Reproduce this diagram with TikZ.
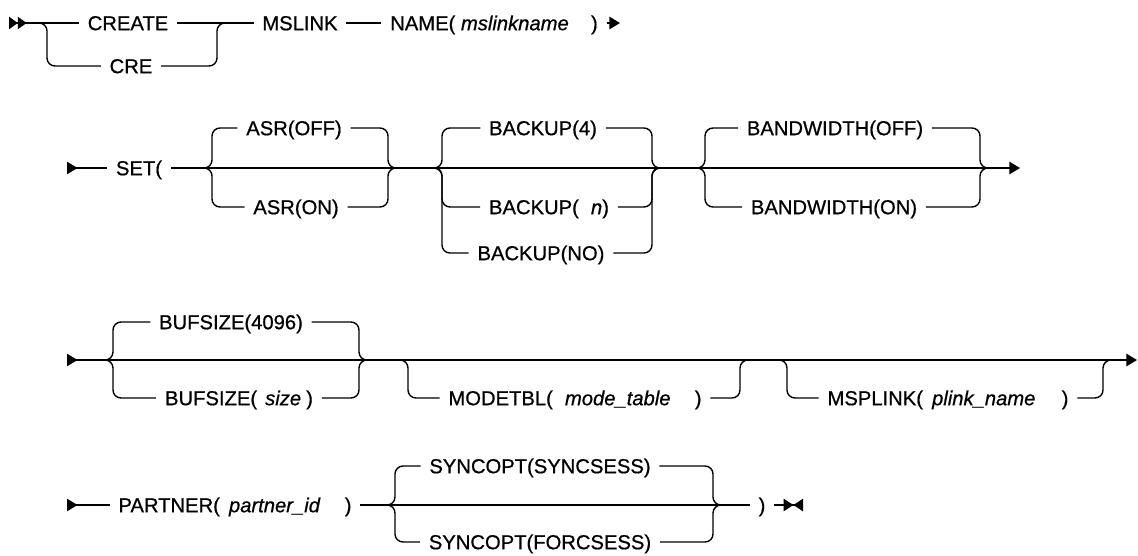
\documentclass[tikz,border=0pt]{standalone}
\usepackage{fontspec}
\setmainfont{Liberation Sans}[FakeBold=0.7]
\usetikzlibrary{arrows.meta}

\begin{document}
\begin{tikzpicture}[x=0.02cm,y=-0.02cm,
  rail/.style={line width=0.8pt,rounded corners=0.16cm},
  kw/.style={font=\fontsize{11.5}{13}\selectfont,inner xsep=0.17cm,inner ysep=0pt,text height=8.2pt,text depth=0pt}]
  \useasboundingbox (0,0) rectangle (1138,555);
  % row 1
  \coordinate (r1start) at (9,23);
  \node[kw] (create) at (128,23) {CREATE};
  \node[kw] (cre) at (131,66) {CRE};
  \coordinate (creL) at (47,23);
  \coordinate (creR) at (217,23);
  \node[kw] (mslink) at (300,23) {MSLINK};
  \node[kw] (name) at (494,23) {NAME( \textit{mslinkname}\hspace{1.1em})};
  \coordinate (r1end) at (620,23);
  \draw[rail,{Triangle[reversed,length=5pt,width=7pt]Triangle[reversed,length=5pt,width=7pt]}-] (r1start) -- (create);
  \draw[rail] (create) -- (mslink);
  \draw[rail] (mslink) -- (name);
  \draw[rail,-{Triangle[length=6pt,width=7pt]}] (name) -- (r1end);
  \draw[rail] ([xshift=-0.16cm]creL) -| (creL |- cre) -- (cre);
  \draw[rail] (cre) -- (creR |- cre) -- (creR) -- ([xshift=0.16cm]creR);
  % row 2
  \coordinate (r2start) at (67,168);
  \node[kw] (set) at (139,168) {SET(};
  \coordinate (asrL) at (212,168);
  \coordinate (asrR) at (388,168);
  \node[kw] (asroff) at (294,128) {ASR(OFF)};
  \node[kw] (asron) at (296,207) {ASR(ON)};
  \coordinate (bkL) at (442,168);
  \coordinate (bkR) at (652,168);
  \node[kw] (bk4) at (543,128) {BACKUP(4)};
  \node[kw] (bkn) at (549,207) {BACKUP(\hspace{0.6em}\textit{n})};
  \node[kw] (bkno) at (541,253) {BACKUP(NO)};
  \coordinate (bwL) at (705,168);
  \coordinate (bwR) at (980,168);
  \node[kw] (bwoff) at (835,128) {BANDWIDTH(OFF)};
  \node[kw] (bwon) at (834,207) {BANDWIDTH(ON)};
  \coordinate (r2end) at (1020,168);
  \draw[rail,{Triangle[reversed,length=6pt,width=7pt]}-] (r2start) -- (set);
  \draw[rail,-{Triangle[length=6pt,width=7pt]}] (set) -- (r2end);
  \draw[rail] ([xshift=-0.16cm]asrL) -| (asrL |- asroff) -- (asroff);
  \draw[rail] (asroff) -- (asrR |- asroff) -- (asrR) -- ([xshift=0.16cm]asrR);
  \draw[rail] ([xshift=-0.16cm]asrL) -| (asrL |- asron) -- (asron);
  \draw[rail] (asron) -- (asrR |- asron) -- (asrR) -- ([xshift=0.16cm]asrR);
  \draw[rail] ([xshift=-0.16cm]bkL) -| (bkL |- bk4) -- (bk4);
  \draw[rail] (bk4) -- (bkR |- bk4) -- (bkR) -- ([xshift=0.16cm]bkR);
  \draw[rail] ([xshift=-0.16cm]bkL) -| (bkL |- bkn) -- (bkn);
  \draw[rail] (bkn) -- (bkR |- bkn) -- (bkR) -- ([xshift=0.16cm]bkR);
  \draw[rail] ([xshift=-0.16cm]bkL) -| (bkL |- bkno) -- (bkno);
  \draw[rail] (bkno) -- (bkR |- bkno) -- (bkR) -- ([xshift=0.16cm]bkR);
  \draw[rail] ([xshift=-0.16cm]bwL) -| (bwL |- bwoff) -- (bwoff);
  \draw[rail] (bwoff) -- (bwR |- bwoff) -- (bwR) -- ([xshift=0.16cm]bwR);
  \draw[rail] ([xshift=-0.16cm]bwL) -| (bwL |- bwon) -- (bwon);
  \draw[rail] (bwon) -- (bwR |- bwon) -- (bwR) -- ([xshift=0.16cm]bwR);
  % row 3
  \coordinate (r3start) at (67,360);
  \coordinate (bufL) at (113,360);
  \coordinate (bufR) at (359,360);
  \node[kw] (buf4096) at (231,322) {BUFSIZE(4096)};
  \node[kw] (bufsize) at (239,398) {BUFSIZE(\hspace{0.4em}\textit{size}\hspace{0.25em})};
  \coordinate (modL) at (408,360);
  \coordinate (modR) at (740,360);
  \node[kw] (modetbl) at (575,398) {MODETBL(\hspace{0.6em}\textit{mode\_table}\hspace{1.2em})};
  \coordinate (mspL) at (787,360);
  \coordinate (mspR) at (1103,360);
  \node[kw] (msplink) at (948,398) {MSPLINK(\hspace{0.45em}\textit{plink\_name}\hspace{1.3em})};
  \coordinate (r3end) at (1137,360);
  \draw[rail,{Triangle[reversed,length=6pt,width=7pt]}-{Triangle[length=6pt,width=7pt]}] (r3start) -- (r3end);
  \draw[rail] ([xshift=-0.16cm]bufL) -| (bufL |- buf4096) -- (buf4096);
  \draw[rail] (buf4096) -- (bufR |- buf4096) -- (bufR) -- ([xshift=0.16cm]bufR);
  \draw[rail] ([xshift=-0.16cm]bufL) -| (bufL |- bufsize) -- (bufsize);
  \draw[rail] (bufsize) -- (bufR |- bufsize) -- (bufR) -- ([xshift=0.16cm]bufR);
  \draw[rail] ([xshift=-0.16cm]modL) -| (modL |- modetbl) -- (modetbl);
  \draw[rail] (modetbl) -- (modR |- modetbl) -- (modR) -- ([xshift=0.16cm]modR);
  \draw[rail] ([xshift=-0.16cm]mspL) -| (mspL |- msplink) -- (msplink);
  \draw[rail] (msplink) -- (mspR |- msplink) -- (mspR) -- ([xshift=0.16cm]mspR);
  % row 4
  \coordinate (r4start) at (67,505);
  \node[kw] (partner) at (235,505) {PARTNER(\hspace{0.45em}\textit{partner\_id}\hspace{1.2em})};
  \coordinate (syncL) at (395,505);
  \coordinate (syncR) at (713,505);
  \node[kw] (syncsess) at (540,466) {SYNCOPT(SYNCSESS)};
  \node[kw] (forcsess) at (540,542) {SYNCOPT(FORCSESS)};
  \node[kw] (close) at (762,505) {)};
  \coordinate (r4end) at (803,505);
  \draw[rail,{Triangle[reversed,length=6pt,width=7pt]}-] (r4start) -- (partner);
  \draw[rail] (partner) -- (close);
  \draw[rail,-{Triangle[length=5.5pt,width=7pt]Triangle[reversed,length=5.5pt,width=7pt]}] (close) -- (r4end);
  \draw[rail] ([xshift=-0.16cm]syncL) -| (syncL |- syncsess) -- (syncsess);
  \draw[rail] (syncsess) -- (syncR |- syncsess) -- (syncR) -- ([xshift=0.16cm]syncR);
  \draw[rail] ([xshift=-0.16cm]syncL) -| (syncL |- forcsess) -- (forcsess);
  \draw[rail] (forcsess) -- (syncR |- forcsess) -- (syncR) -- ([xshift=0.16cm]syncR);
\end{tikzpicture}
\end{document}
